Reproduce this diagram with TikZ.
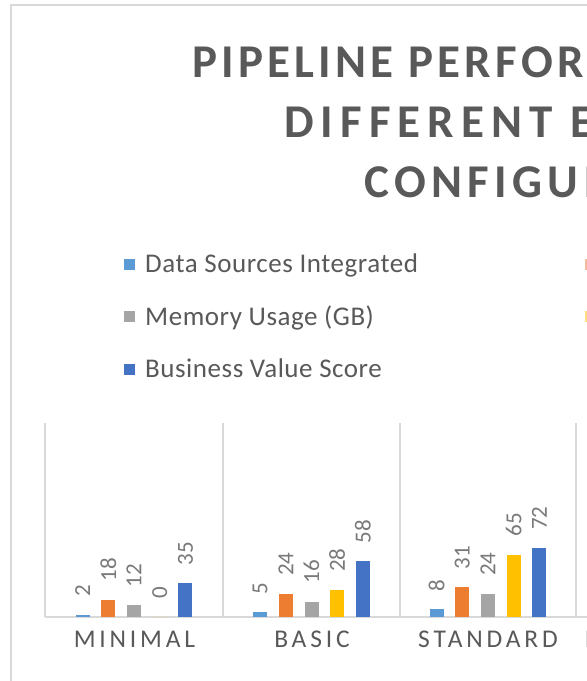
\documentclass[tikz,border=0pt]{standalone}
\usepackage{fontspec}
\setmainfont{Carlito}
\newfontfamily\titlefont[LetterSpace=9]{Carlito}
\newfontfamily\titlefontb[LetterSpace=15]{Carlito}
\newfontfamily\titlefontc[LetterSpace=11.5]{Carlito}
\newfontfamily\catfont[LetterSpace=15]{Carlito}
\newfontfamily\legfont[LetterSpace=2]{Carlito}
\definecolor{cLB}{HTML}{5B9BD5}
\definecolor{cOR}{HTML}{ED7D31}
\definecolor{cGR}{HTML}{A5A5A5}
\definecolor{cYE}{HTML}{FFC000}
\definecolor{cBL}{HTML}{4472C4}
\definecolor{txt}{HTML}{595959}
\definecolor{lbl}{HTML}{7A7A7A}
\definecolor{gridc}{HTML}{D9D9D9}
\tikzset{
  titletext/.style={anchor=base west, inner sep=0pt, text=txt, font=\bfseries\fontsize{47}{56}\selectfont},
  legtext/.style={anchor=base west, inner sep=0pt, text=txt, font=\legfont\fontsize{27}{30}\selectfont},
  cattext/.style={anchor=base, inner sep=0pt, text=txt, font=\catfont\fontsize{25.5}{27}\selectfont},
  vallabel/.style={rotate=90, anchor=west, inner sep=0pt, text=lbl, font=\fontsize{23}{24}\selectfont},
  gridline/.style={draw=gridc, line width=1.3pt},
  framebox/.style={draw=gridc, line width=2.5pt}
}
\begin{document}
\begin{tikzpicture}[x=1pt,y=-1pt]
\useasboundingbox (0,0) rectangle (587,681);
\clip (0,0) rectangle (587,681);
\fill[white] (0,0) rectangle (587,681);
% frame
\draw[framebox] (11,700) -- (11,5) -- (620,5);
% title
\node[titletext] (t1) at (192,77) {\titlefont\bfseries PIPELINE PERFORMANCE};
\node[titletext] (t2) at (284,137) {\titlefontb\bfseries DIFFERENT EXECUTION};
\node[titletext] (t3) at (364,197) {\titlefontc\bfseries CONFIGURATIONS};
% legend
\fill[cLB] (124,258.5) rectangle ++(11,11);
\node[legtext] (l1) at (145,272) {Data Sources Integrated};
\fill[cGR] (124,311) rectangle ++(11,11);
\node[legtext] (l3) at (145,325) {Memory Usage (GB)};
\fill[cBL] (124,363.5) rectangle ++(11,11);
\node[legtext] (l5) at (145,377) {Business Value Score};
\fill[cOR, opacity=0.5] (585,258.5) rectangle ++(11,11);
\fill[cYE, opacity=0.5] (585,311) rectangle ++(11,11);
% grid
\foreach \gx in {45,223,400,576} {\draw[gridline] (\gx,423) -- (\gx,617);}
\draw[gridline] (45,617) -- (620,617);
% bars and labels
\foreach \cx/\cn/\a/\b/\c/\d/\e in {134/1/2/18/12/0/35, 311.5/2/5/24/16/28/58, 488/3/8/31/24/65/72} {
  \foreach \v/\off/\col/\s in {\a/-51.4/cLB/1, \b/-25.7/cOR/2, \c/0/cGR/3, \d/25.7/cYE/4, \e/51.4/cBL/5} {
    \pgfmathsetmacro\h{\v*0.96}
    \pgfmathsetmacro\bx{\cx+\off}
    \fill[\col] (\bx-7,617) rectangle (\bx+7,617-\h);
    \node[vallabel] (d\cn\s) at (\bx,617-\h-18) {\v};
  }
}
% category labels
\node[cattext] (c1) at (134.5,647) {MINIMAL};
\node[cattext] (c2) at (312,647) {BASIC};
\node[cattext] (c3) at (488,647) {STANDARD};
\node[cattext] (c4) at (665,647) {ENTERPRISE};
\end{tikzpicture}
\end{document}
